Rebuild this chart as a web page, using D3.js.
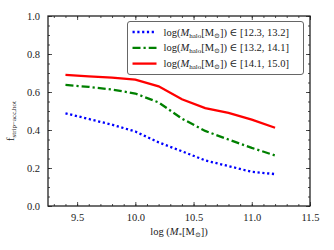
<!DOCTYPE html>
<html>
<head>
<meta charset="utf-8">
<script src="https://cdn.jsdelivr.net/npm/d3@7"></script>
<style>
  body { margin: 0; background: #fff; }
</style>
</head>
<body>
<div id="chart"></div>
<script>
// stellar mass bins (log M*)
const massBins = [9.4, 9.6, 9.8, 10.0, 10.2, 10.4, 10.6, 10.8, 11.0, 11.2];
// f_strip-acc,hot per halo mass bin
const lowHalo  = [0.488, 0.458, 0.428, 0.392, 0.335, 0.288, 0.240, 0.210, 0.180, 0.168];
const midHalo  = [0.637, 0.627, 0.613, 0.592, 0.545, 0.460, 0.395, 0.350, 0.306, 0.266];
const highHalo = [0.690, 0.682, 0.676, 0.665, 0.630, 0.562, 0.515, 0.490, 0.455, 0.412];
const haloRanges = ["[12.3, 13.2]", "[13.2, 14.1]", "[14.1, 15.0]"];
const xTicks = [9.5, 10.0, 10.5, 11.0, 11.5];
const yTicks = [0.0, 0.2, 0.4, 0.6, 0.8, 1.0];

const FONT = "Liberation Serif, Tinos, Times New Roman, DejaVu Serif, serif";

var margin = {top: 16, right: 24, bottom: 44, left: 48},
    W = 334, H = 250,
    width = W - margin.left - margin.right,
    height = H - margin.top - margin.bottom;

var svg = d3.select("#chart").append("svg")
    .attr("width", W)
    .attr("height", H)
    .style("font-family", FONT)
  .append("g")
    .attr("transform", "translate(" + margin.left + "," + margin.top + ")");

var x = d3.scaleLinear().domain([9.25, 11.5]).range([0, width]);
var y = d3.scaleLinear().domain([0, 1]).range([height, 0]);

var xMinor = d3.range(93, 116).map(d => d / 10);
var yMinor = d3.range(0, 21).map(d => d / 20);

// inward ticks on all four sides
function styleAxis(g) {
    g.attr("font-family", null);
    g.select(".domain").remove();
    g.selectAll("line").attr("stroke", "#222").attr("stroke-width", 0.8);
    g.selectAll("text").attr("font-size", "10.5px").attr("fill", "#222")
        .style("font-family", FONT);
}
svg.append("g").attr("transform", "translate(0," + height + ")")
    .call(d3.axisBottom(x).tickValues(xMinor).tickSize(-2).tickFormat(""))
    .call(styleAxis);
svg.append("g").attr("transform", "translate(0," + height + ")")
    .call(d3.axisBottom(x).tickValues(xTicks).tickSize(-4).tickPadding(8).tickFormat(d3.format(".1f")))
    .call(styleAxis);
svg.append("g")
    .call(d3.axisTop(x).tickValues(xMinor).tickSize(-2).tickFormat(""))
    .call(styleAxis);
svg.append("g")
    .call(d3.axisTop(x).tickValues(xTicks).tickSize(-4).tickFormat(""))
    .call(styleAxis);
svg.append("g")
    .call(d3.axisLeft(y).tickValues(yMinor).tickSize(-2).tickFormat(""))
    .call(styleAxis);
svg.append("g")
    .call(d3.axisLeft(y).tickValues(yTicks).tickSize(-4).tickPadding(8).tickFormat(d3.format(".1f")))
    .call(styleAxis);
svg.append("g").attr("transform", "translate(" + width + ",0)")
    .call(d3.axisRight(y).tickValues(yMinor).tickSize(-2).tickFormat(""))
    .call(styleAxis);
svg.append("g").attr("transform", "translate(" + width + ",0)")
    .call(d3.axisRight(y).tickValues(yTicks).tickSize(-4).tickFormat(""))
    .call(styleAxis);

// frame
svg.append("rect")
    .attr("width", width).attr("height", height)
    .attr("fill", "none").attr("stroke", "#222").attr("stroke-width", 1.3);

var series = [
    {vals: lowHalo,  color: "#0000ff", dash: "2.2,2.6"},
    {vals: midHalo,  color: "#008000", dash: "8,3,2.2,3"},
    {vals: highHalo, color: "#ff0000", dash: null}
];

var line = d3.line()
    .x(function(d, i) { return x(massBins[i]); })
    .y(function(d) { return y(d); });

series.forEach(function(s) {
    svg.append("path")
        .datum(s.vals)
        .attr("fill", "none")
        .attr("stroke", s.color)
        .attr("stroke-width", 2.3)
        .attr("stroke-dasharray", s.dash)
        .attr("d", line);
});

// legend
var lg = svg.append("g").attr("transform", "translate(" + (x(9.95) - 2) + ",5.5)");
lg.append("rect")
    .attr("width", 176).attr("height", 53).attr("rx", 2.5)
    .attr("fill", "#fff").attr("fill-opacity", 0.85)
    .attr("stroke", "#555").attr("stroke-width", 0.9);

series.forEach(function(s, i) {
    var ry = 10.5 + i * 15.8;
    lg.append("line")
        .attr("x1", 5).attr("x2", 29).attr("y1", ry).attr("y2", ry)
        .attr("stroke", s.color).attr("stroke-width", 2.3)
        .attr("stroke-dasharray", s.dash);
    var t = lg.append("text").attr("x", 36).attr("y", ry + 3.5)
        .attr("font-size", "10.5px").attr("fill", "#222");
    t.append("tspan").text("log(");
    t.append("tspan").attr("font-style", "italic").text("M");
    t.append("tspan").attr("font-size", "7px").attr("dy", 2).text("halo");
    t.append("tspan").attr("dy", -2).text("[M");
    t.append("tspan").attr("font-size", "7px").attr("dy", 2).text("⊙");
    t.append("tspan").attr("dy", -2).text("]) ∈ " + haloRanges[i]);
});

// x-axis title
var xt = svg.append("text")
    .attr("x", width / 2).attr("y", height + 29)
    .attr("fill", "#222")
    .attr("text-anchor", "middle").attr("font-size", "10.5px");
xt.append("tspan").text("log (");
xt.append("tspan").attr("font-style", "italic").text("M");
xt.append("tspan").attr("font-size", "7px").attr("dy", 2).text("*");
xt.append("tspan").attr("dy", -2).text("[M");
xt.append("tspan").attr("font-size", "7px").attr("dy", 2).text("⊙");
xt.append("tspan").attr("dy", -2).text("])");

// y-axis title
var yt = svg.append("text")
    .attr("transform", "translate(-34," + (height / 2 + 10) + ") rotate(-90)")
    .attr("fill", "#222")
    .attr("text-anchor", "middle").attr("font-size", "10.5px");
yt.append("tspan").text("f");
yt.append("tspan").attr("font-size", "7px").attr("dy", 2).text("strip−acc,hot");
</script>
</body>
</html>
